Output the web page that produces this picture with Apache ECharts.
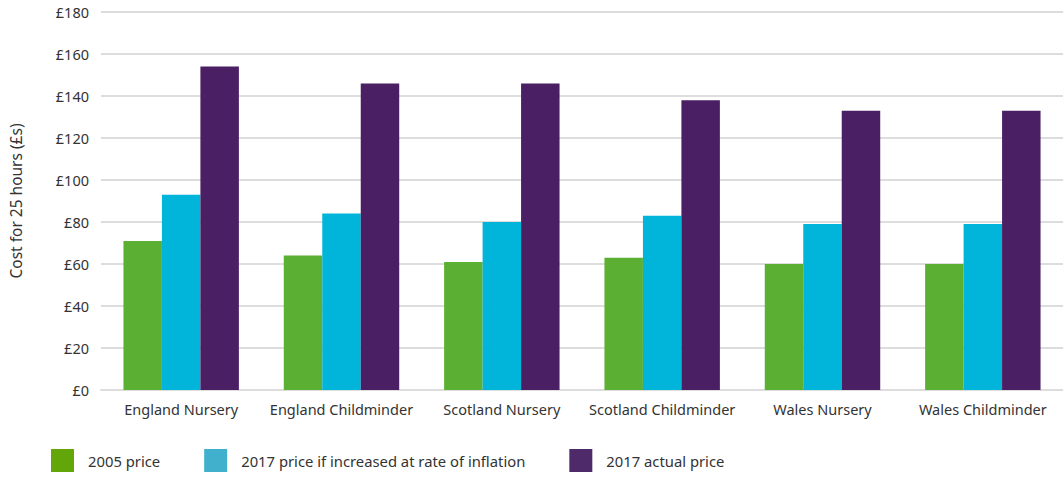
<!DOCTYPE html>
<html>
<head>
<meta charset="utf-8">
<script src="https://cdn.jsdelivr.net/npm/echarts@6/dist/echarts.min.js"></script>
<style>
  html, body { margin: 0; padding: 0; background: #fff; }
  #chart { width: 1063px; height: 477px; }
</style>
</head>
<body>
<div id="chart"></div>
<script>
const categories = ['England Nursery', 'England Childminder', 'Scotland Nursery', 'Scotland Childminder', 'Wales Nursery', 'Wales Childminder'];
const price2005 = [71, 64, 61, 63, 60, 60];
const price2017Inflation = [93, 84, 80, 83, 79, 79];
const price2017Actual = [154, 146, 146, 138, 133, 133];
const yTicks = [0, 20, 40, 60, 80, 100, 120, 140, 160, 180];

const chart = echarts.init(document.getElementById('chart'), null, { renderer: 'svg' });

const font = '"Noto Sans", Lato, sans-serif';

let option = {
    textStyle: { fontFamily: font },
    grid: { left: 99, right: 0, top: 12, bottom: 87 },
    legend: {
        left: 46,
        bottom: 0,
        itemWidth: 23,
        itemHeight: 23,
        itemGap: 44,
        icon: 'rect',
        textStyle: { fontSize: 14.8, color: '#333', fontFamily: font, padding: [0, 0, 0, 9] },
        data: [
            { name: '2005 price', itemStyle: { color: '#62a60a' } },
            { name: '2017 price if increased at rate of inflation', itemStyle: { color: '#40b0cc' } },
            { name: '2017 actual price', itemStyle: { color: '#4f2a6a' } }
        ]
    },
    xAxis: {
        type: 'category',
        data: categories,
        axisLine: { lineStyle: { color: '#dddddd', width: 2 } },
        axisTick: { alignWithLabel: true, length: 10, lineStyle: { color: '#cccccc' } },
        axisLabel: { color: '#333', fontSize: 14.5, margin: 11, interval: 0, fontFamily: font }
    },
    yAxis: {
        type: 'value',
        min: yTicks[0],
        max: yTicks[yTicks.length - 1],
        interval: 20,
        name: 'Cost for 25 hours (£s)',
        nameLocation: 'middle',
        nameGap: 77,
        nameTextStyle: { color: '#333', fontSize: 15.5, fontFamily: font },
        axisLabel: { color: '#333', fontSize: 14.5, margin: 12, formatter: v => '£' + v, fontFamily: font },
        splitLine: { lineStyle: { color: '#dddddd', width: 2 } }
    },
    series: [
        { name: '2005 price', type: 'bar', data: price2005, itemStyle: { color: '#5bb033' }, barGap: '0%', barCategoryGap: '28%' },
        { name: '2017 price if increased at rate of inflation', type: 'bar', data: price2017Inflation, itemStyle: { color: '#00b5d9' } },
        { name: '2017 actual price', type: 'bar', data: price2017Actual, itemStyle: { color: '#4a1f63' } }
    ]
};

window.addEventListener('resize', function () {
    chart.resize();
});

option && chart.setOption(option);
</script>
</body>
</html>
